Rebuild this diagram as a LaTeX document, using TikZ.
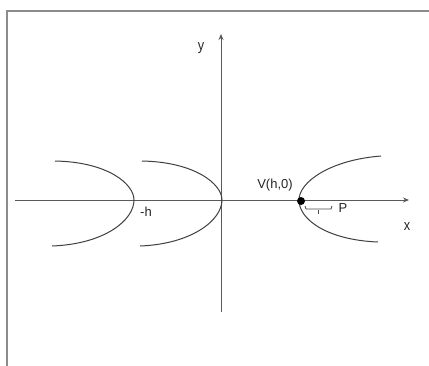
\documentclass[tikz,border=0pt]{standalone}
\usepackage{fontspec}
\setmainfont{Liberation Sans}
\usetikzlibrary{arrows.meta}
\begin{document}
\begin{tikzpicture}[x=1pt,y=-1pt,
  axis/.style={draw=black!65,line width=0.9pt,-{Stealth[length=6pt,width=5pt]}},
  curve/.style={draw=black!75,line width=1pt},
  lbl/.style={font=\fontsize{13}{15}\selectfont,text=black!85,inner sep=0pt},
  axlbl/.style={font=\fontsize{15}{17}\selectfont,text=black!85,inner sep=0pt,xscale=0.85},
  frame/.style={draw=black!45,line width=1.8pt}]
\useasboundingbox (0,0) rectangle (429,365);
\fill[white] (0,0) rectangle (429,365);
\draw[frame] (7,366) -- (7,11) -- (430,11);
% axes
\coordinate (xl) at (15,200);
\coordinate (xr) at (409,200);
\coordinate (yb) at (221,312);
\coordinate (yt) at (221,34);
\draw[axis] (xl) -- (xr);
\draw[axis] (yb) -- (yt);
% parabolas
\draw[curve] (55,161) .. controls (108,162) and (134,184) .. (134,200)
  .. controls (134,220) and (105,244) .. (52,246);
\draw[curve] (142,161) .. controls (195,162) and (222,184) .. (222,200)
  .. controls (222,220) and (192,244) .. (140,246);
\draw[curve] (381,156) .. controls (330,160) and (299,182) .. (299,200)
  .. controls (299,220) and (328,240) .. (378,242);
% vertex
\node[circle,fill=black,inner sep=0pt,minimum size=8pt] (V) at (301,201) {};
% bracket
\coordinate (b1) at (305,206);
\coordinate (b2) at (332,206);
\draw[black!70,line width=0.8pt] (b1) -- ++(1,3) -- ++(25,0) -- (b2);
\draw[black!70,line width=0.6pt] (318,210) -- (318,214);
% labels
\node[axlbl] (ly) at (201,48) {y};
\node[axlbl] (lx) at (407,227) {x};
\node[lbl] (lv) at (275,185) {V(h,0)};
\node[lbl] (lh) at (146,212) {-h};
\node[lbl] (lp) at (343,208) {P};
\end{tikzpicture}
\end{document}
